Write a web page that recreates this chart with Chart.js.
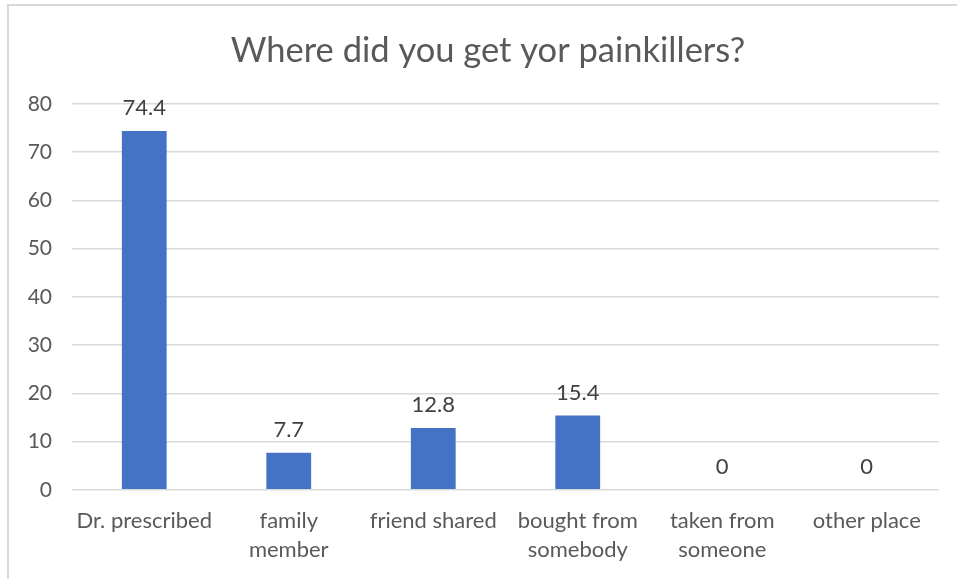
<!DOCTYPE html>
<html lang="en">
<head>
    <meta charset="UTF-8">
    <title>Where did you get yor painkillers?</title>
    <style>
        body {
            margin: 0;
            background-color: #fff;
            overflow: hidden;
        }
        .chart-box {
            position: absolute;
            left: 7px;
            top: 4px;
            width: 950px;
            height: 590px;
            border-top: 2px solid #d9d9d9;
            border-left: 2px solid #d9d9d9;
        }
        #chartContainer {
            position: absolute;
            left: 0;
            top: 0;
            width: 948px;
            height: 583px;
        }
    </style>
    <script src="https://cdn.jsdelivr.net/npm/chart.js"></script>
</head>
<body>
    <div class="chart-box">
        <div id="chartContainer">
            <canvas id="painChart"></canvas>
        </div>
    </div>

    <script>
        const chartTitle = 'Where did you get yor painkillers?';
        const categories = [
            ['Dr. prescribed'],
            ['family', 'member'],
            ['friend shared'],
            ['bought from', 'somebody'],
            ['taken from', 'someone'],
            ['other place']
        ];
        const values = [74.4, 7.7, 12.8, 15.4, 0, 0];
        const yTicks = [0, 10, 20, 30, 40, 50, 60, 70, 80];

        const fontFamily = 'Lato, "Open Sans", sans-serif';
        const textColor = '#595959';

        // value above each bar + the title (Excel centres it a bit off the canvas middle)
        const chartText = {
            id: 'chartText',
            afterDatasetsDraw(chart) {
                const ctx = chart.ctx;
                const meta = chart.getDatasetMeta(0);
                ctx.save();
                ctx.font = '22px ' + fontFamily;
                ctx.fillStyle = '#404040';
                ctx.textAlign = 'center';
                ctx.textBaseline = 'middle';
                meta.data.forEach(function (bar, i) {
                    ctx.fillText(String(values[i]), bar.x, bar.y - 23);
                });

                ctx.font = '34.5px ' + fontFamily;
                ctx.fillStyle = textColor;
                ctx.fillText(chartTitle, chart.width / 2 + 5, 45);
                ctx.restore();
            }
        };

        document.addEventListener('DOMContentLoaded', function () {
            const ctx = document.getElementById('painChart').getContext('2d');
            new Chart(ctx, {
                type: 'bar',
                data: {
                    labels: categories,
                    datasets: [{
                        data: values,
                        backgroundColor: '#4472C4',
                        categoryPercentage: 0.31,
                        barPercentage: 1.0
                    }]
                },
                options: {
                    responsive: true,
                    maintainAspectRatio: false,
                    animation: false,
                    layout: {
                        padding: { left: 0, right: 18, top: 98, bottom: 8 }
                    },
                    scales: {
                        x: {
                            grid: { display: false, drawTicks: false },
                            border: { display: false },
                            ticks: {
                                color: textColor,
                                font: { family: fontFamily, size: 22, lineHeight: 1.3 },
                                padding: 17,
                                maxRotation: 0,
                                autoSkip: false
                            }
                        },
                        y: {
                            min: 0,
                            max: 80,
                            afterBuildTicks: function (scale) {
                                scale.ticks = yTicks.map(v => ({ value: v }));
                            },
                            afterFit: function (scale) {
                                scale.width = 63;
                            },
                            grid: { color: '#d9d9d9', lineWidth: 1.5, drawTicks: false },
                            border: { display: false },
                            ticks: {
                                color: textColor,
                                font: { family: fontFamily, size: 21 },
                                padding: 20
                            }
                        }
                    },
                    plugins: {
                        legend: { display: false },
                        tooltip: { enabled: false },
                        title: { display: false }
                    }
                },
                plugins: [chartText]
            });
        });
    </script>
</body>
</html>
